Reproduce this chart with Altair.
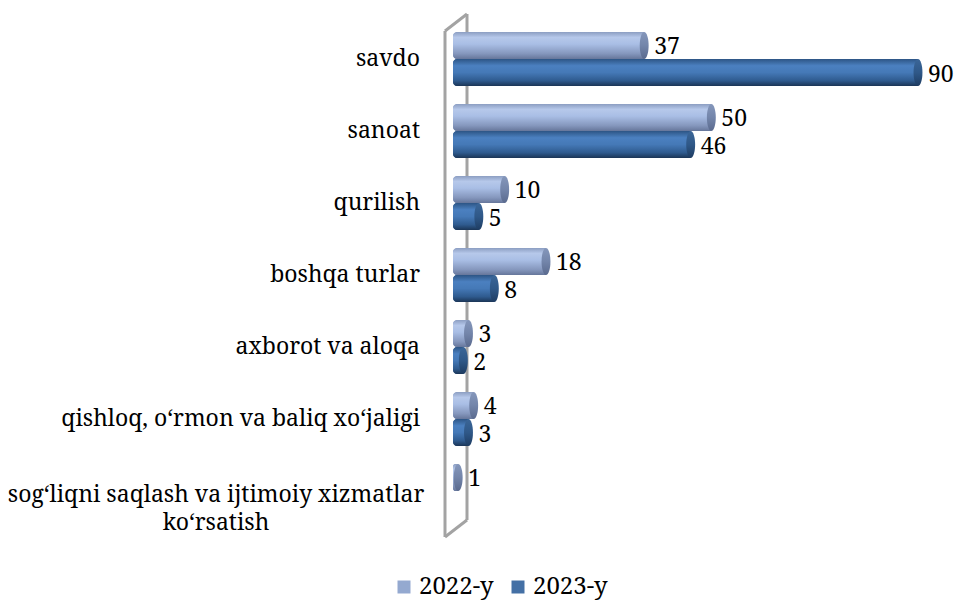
import altair as alt
import pandas as pd

categories = ["savdo", "sanoat", "qurilish", "boshqa turlar", "axborot va aloqa",
              "qishloq, o‘rmon va baliq xo‘jaligi",
              "sog‘liqni saqlash va ijtimoiy xizmatlar|ko‘rsatish"]
series = ["2022-y", "2023-y"]
values_2022 = [37, 50, 10, 18, 3, 4, 1]
values_2023 = [90, 46, 5, 8, 2, 3, None]
flat_colors = ["#94a9d0", "#4470a5"]

rows = []
for c, a, b in zip(categories, values_2022, values_2023):
    for s, v in zip(series, (a, b)):
        if v is not None:
            rows.append({"cat": c, "series": s, "value": v})
df = pd.DataFrame(rows)
cat_df = pd.DataFrame({"cat": categories})

FONT = "Noto Serif"


def vgrad(stops):
    return {"gradient": "linear", "x1": 0, "y1": 0, "x2": 0, "y2": 1,
            "stops": [{"offset": o, "color": c} for o, c in stops]}


grad_light = vgrad([(0, "#8c9ec2"), (0.2, "#b6c8ea"), (0.45, "#a9bee5"),
                    (0.8, "#8597bd"), (1, "#66769a")])
grad_dark = vgrad([(0, "#2d5585"), (0.25, "#4b80c0"), (0.5, "#4579b7"),
                   (0.8, "#2f5b8f"), (1, "#1b3556")])
cap_light = vgrad([(0, "#8597bb"), (0.5, "#7385aa"), (1, "#5a6a8e")])
cap_dark = vgrad([(0, "#3b6698"), (0.5, "#2f5888"), (1, "#1e3c62")])
ellipse = "M0,-1 A0.33,1 0 1,1 0,1 A0.33,1 0 1,1 0,-1 Z"

y_enc = alt.Y("cat:N", sort=categories,
              scale=alt.Scale(domain=categories, paddingInner=0, paddingOuter=0),
              axis=None)
yoff_enc = alt.YOffset("series:N", sort=series,
                       scale=alt.Scale(domain=series, paddingInner=0, paddingOuter=0.333))
x_enc = alt.X("value:Q", scale=alt.Scale(domain=[0, 90], nice=False, zero=True), axis=None)

base = alt.Chart(df).encode(y=y_enc, yOffset=yoff_enc, x=x_enc)

one = pd.DataFrame({"a": [0]})
wall_color = "#a3a3a3"
walls = [
    alt.Chart(one).mark_rule(color=wall_color, strokeWidth=3).encode(
        x=alt.value(14), y=alt.value(-9), y2=alt.value(497)),
    alt.Chart(one).mark_rule(color=wall_color, strokeWidth=3).encode(
        x=alt.value(-8), y=alt.value(8), y2=alt.value(514)),
    alt.Chart(one).mark_rule(color=wall_color, strokeWidth=3).encode(
        x=alt.value(-8), x2=alt.value(14), y=alt.value(8), y2=alt.value(-9)),
    alt.Chart(one).mark_rule(color=wall_color, strokeWidth=3).encode(
        x=alt.value(-8), x2=alt.value(14), y=alt.value(514), y2=alt.value(497)),
]

underlay = base.mark_bar(cornerRadiusTopLeft=4, cornerRadiusBottomLeft=4).encode(
    color=alt.Color("series:N", scale=alt.Scale(domain=series, range=flat_colors),
                    legend=alt.Legend(title=None)))

bars22 = base.transform_filter(alt.datum.series == "2022-y").mark_bar(
    color=grad_light, cornerRadiusTopLeft=4, cornerRadiusBottomLeft=4)
bars23 = base.transform_filter(alt.datum.series == "2023-y").mark_bar(
    color=grad_dark, cornerRadiusTopLeft=4, cornerRadiusBottomLeft=4)

caps22 = base.transform_filter(alt.datum.series == "2022-y").mark_point(
    shape=ellipse, size=729, filled=True, color=cap_light, opacity=1, strokeWidth=0)
caps23 = base.transform_filter(alt.datum.series == "2023-y").mark_point(
    shape=ellipse, size=729, filled=True, color=cap_dark, opacity=1, strokeWidth=0)

value_labels = base.mark_text(align="left", baseline="middle", dx=10, dy=2,
                              font=FONT, fontSize=23, color="black").encode(
    text="value:Q")

cat_single = alt.Chart(cat_df).transform_filter(
    "indexof(datum.cat, '|') < 0").mark_text(
    align="right", baseline="middle", x=-33, font=FONT, fontSize=23, color="black"
).encode(y=y_enc, text="cat:N")

cat_multi = alt.Chart(cat_df).transform_filter(
    "indexof(datum.cat, '|') >= 0").mark_text(
    align="center", baseline="middle", x=-237, dy=4, lineBreak="|", lineHeight=28,
    font=FONT, fontSize=23, color="black"
).encode(y=y_enc, text="cat:N")

chart = alt.layer(
    *walls, underlay, bars22, bars23, caps22, caps23, value_labels, cat_single, cat_multi
).properties(
    width=465, height=504,
    padding={"left": 445, "top": 15, "right": 37, "bottom": 74},
    autosize="none",
).configure_view(stroke=None).configure_legend(
    orient="none", legendX=-61, legendY=552, direction="horizontal",
    symbolType="square", symbolSize=169, symbolStrokeWidth=0, symbolOpacity=1,
    labelFont=FONT, labelFontSize=24, labelColor="black", columnPadding=12, labelOffset=3,
)

chart.save("out.html", embed_options={"renderer": "svg", "actions": False})
